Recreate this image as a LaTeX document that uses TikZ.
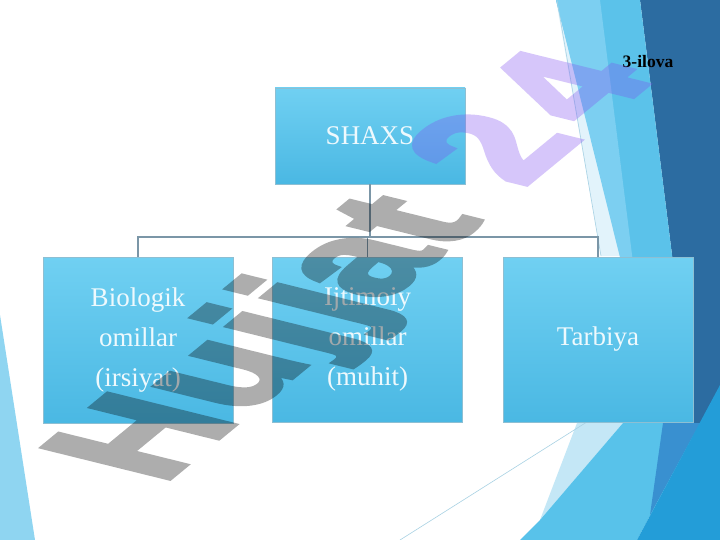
\documentclass[tikz,border=0pt]{standalone}
\usepackage{fontspec}
\setmainfont{Liberation Serif}
\newfontface\wmfont{Liberation Sans Bold}[FakeBold=4]
\definecolor{navy}{HTML}{2C6CA1}
\definecolor{bandlight}{HTML}{7CCFF1}
\definecolor{band}{HTML}{5BC2EA}
\definecolor{pale}{HTML}{E2F3FB}
\definecolor{sliver}{HTML}{8FD5F1}
\definecolor{botlight}{HTML}{58C2EA}
\definecolor{botpale}{HTML}{C4E7F6}
\definecolor{botmid}{HTML}{3990D0}
\definecolor{botblue}{HTML}{239DD8}
\definecolor{thinline}{HTML}{A9D2E4}
\definecolor{conncol}{HTML}{7B96A7}
\definecolor{boxtop}{HTML}{70D0F2}
\definecolor{boxbot}{HTML}{4AB8E3}
\definecolor{boxedge}{HTML}{8DBFD3}
\definecolor{boxtext}{HTML}{EEF9FD}
\definecolor{wmpurple}{HTML}{8050F0}
\tikzset{
  orgbox/.style={rectangle, top color=boxtop, bottom color=boxbot, draw=boxedge,
    line width=0.7pt, minimum width=190pt, inner sep=2pt, align=center,
    text=boxtext, font=\fontsize{27}{40}\selectfont},
  conn/.style={draw=conncol, line width=1.5pt}
}
\begin{document}
\begin{tikzpicture}[x=1pt,y=-1pt]
\useasboundingbox (0,0) rectangle (720,540);
\fill[white] (0,0) rectangle (720,540);
% background facets
\fill[sliver] (0,315) -- (35,540) -- (0,540) -- cycle;
\fill[navy] (640,0) -- (720,0) -- (720,540) -- (690,540) -- (693,422) -- cycle;
\fill[pale] (556,0) -- (622,256) -- (601,256) -- cycle;
\fill[band] (556,0) -- (640,0) -- (693,422) -- (665,422) -- cycle;
\fill[bandlight] (556,0) -- (600,0) -- (645,358) -- cycle;
\draw[thinline, line width=0.6pt] (557,0) -- (601,256);
\fill[botpale] (577,423) -- (623,423) -- (540,520) -- cycle;
\fill[botlight] (623,423) -- (700,423) -- (637,540) -- (520,540) -- (540,520) -- cycle;
\fill[botmid] (663,423) -- (700,423) -- (650,515) -- cycle;
\fill[botblue] (720,385) -- (720,540) -- (637,540) -- cycle;
\draw[thinline, line width=0.6pt] (400,540) -- (590,420);
% boxes
\node[orgbox, minimum height=96pt] (shaxs) at (370,136) {SHAXS};
\node[orgbox, minimum height=166pt] (bio) at (138,340) {Biologik\\omillar\\(irsiyat)};
\node[orgbox, minimum height=165pt] (ijt) at (367.5,339.5) {Ijtimoiy\\omillar\\(muhit)};
\node[orgbox, minimum height=165pt] (tar) at (598,339.5) {Tarbiya};
% connectors
\coordinate (bus) at (0,237);
\draw[conn] (shaxs.south) -- (shaxs.south |- bus);
\draw[conn] (bio.north) -- (bio.north |- bus) -- (tar.north |- bus) -- (tar.north);
\draw[conn] (ijt.north) -- (ijt.north |- bus);
% label
\node[font=\bfseries\fontsize{17.5}{20}\selectfont, inner sep=0] (ilova) at (648,62) {3-ilova};
% watermark
\begin{scope}[transparency group, opacity=0.32]
\begin{scope}[shift={(156,489)}, cm={1.10,0.906,-1.82,0.45,(0,0)}]
\node[transform shape, anchor=base west, inner sep=0, text=black,
  font=\wmfont\fontsize{100}{100}\selectfont] (wm) at (0,0)
  {\kern5pt H\kern4pt u\kern4pt j\kern4pt j\kern0pt a\kern2pt t\kern36pt\textcolor{wmpurple}{2\kern12pt 4}};
\end{scope}
\end{scope}
\end{tikzpicture}
\end{document}
